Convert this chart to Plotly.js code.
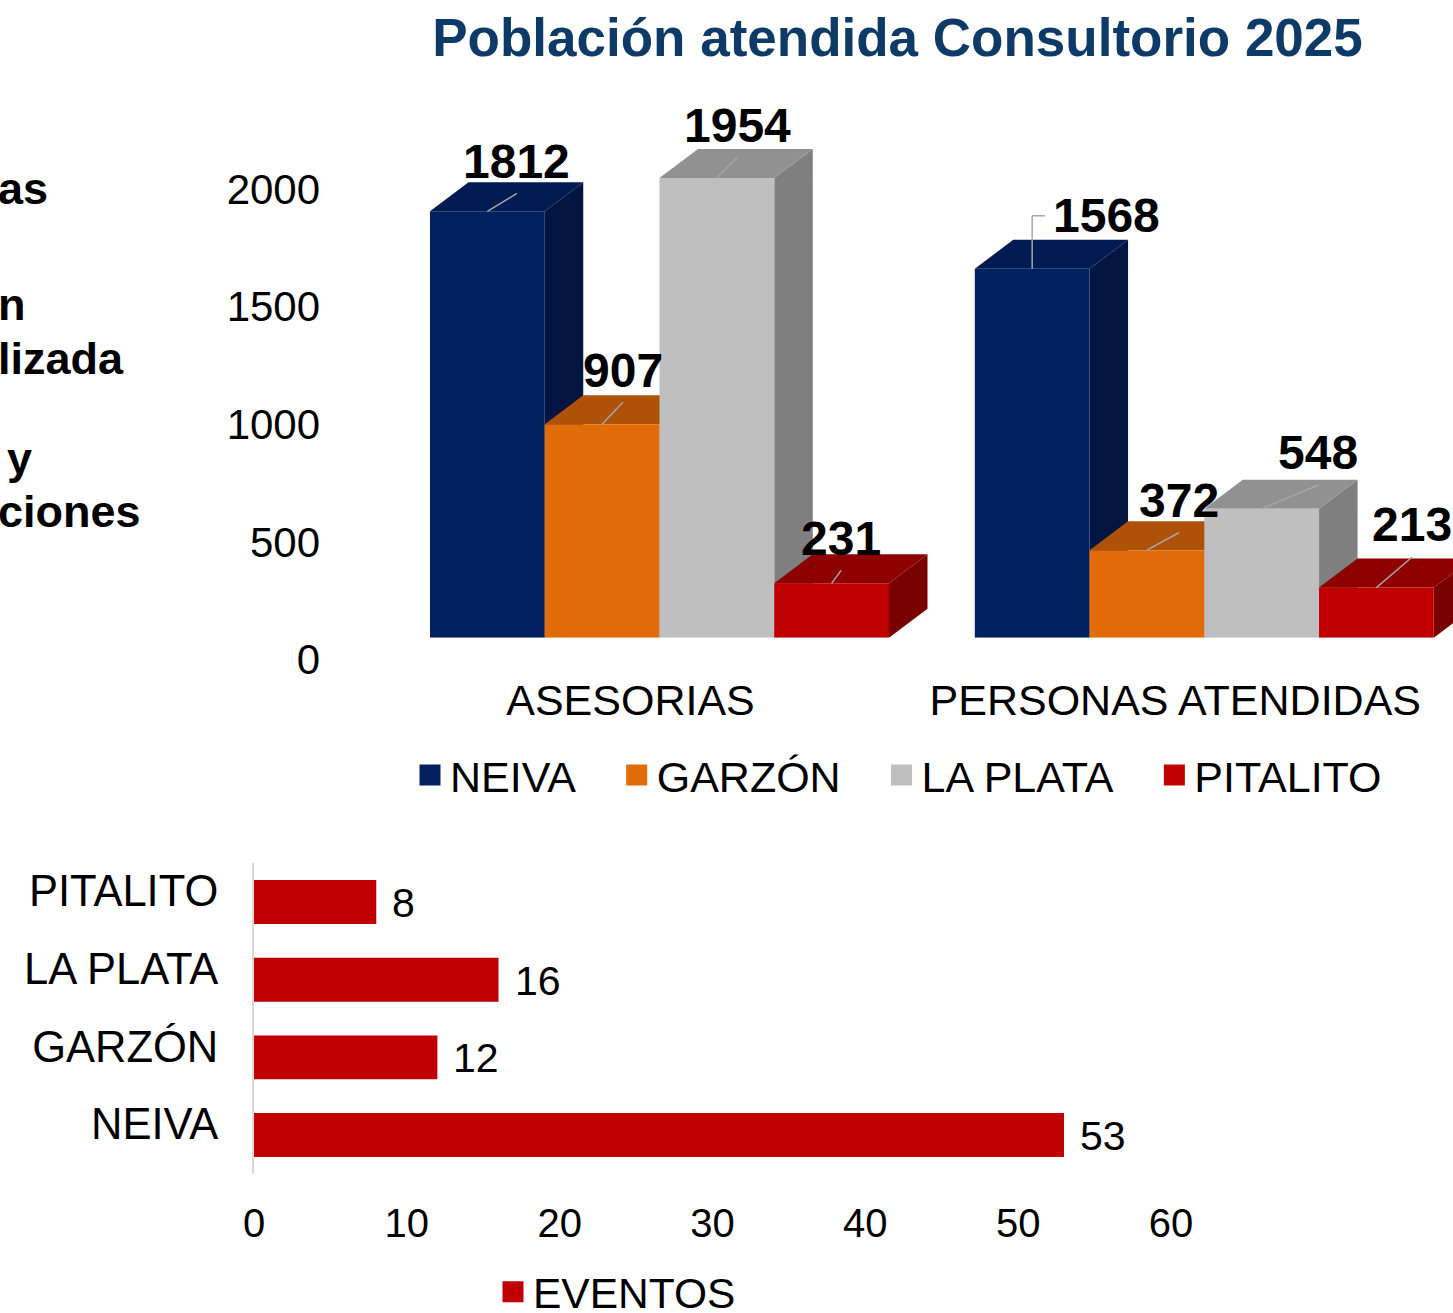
<!DOCTYPE html>
<html>
<head>
<meta charset="utf-8">
<script src="https://cdn.plot.ly/plotly-3.0.1.min.js"></script>
<style>html,body{margin:0;padding:0;background:#fff;}#chart{width:1453px;height:1313px;}</style>
</head>
<body>
<div id="chart"></div>
<script>
// ---------------- DATA ----------------
const categories = ['ASESORIAS', 'PERSONAS ATENDIDAS'];
const sedes = ['NEIVA', 'GARZÓN', 'LA PLATA', 'PITALITO'];
const neiva = [1812, 1568];
const garzon = [907, 372];
const laPlata = [1954, 548];
const pitalito = [231, 213];
const yTickValues = [0, 500, 1000, 1500, 2000];

const eventosSedes = ['NEIVA', 'GARZÓN', 'LA PLATA', 'PITALITO'];
const eventos = [53, 12, 16, 8];
const eventosTicks = [0, 10, 20, 30, 40, 50, 60];

// text of a neighbouring panel that is cut off at the left edge
const leftFragments = ['as', 'n', 'lizada', 'y', 'ciones'];

// ---------------- STYLE / LAYOUT CONSTANTS ----------------
const W = 1453, H = 1313;
const FONT = 'Liberation Sans, Arial, Helvetica, sans-serif';
const frontColors = ['#002060', '#E36C0A', '#BFBFBF', '#C00000'];
const topColors   = ['#001B51', '#AE5208', '#919191', '#8E0000'];
const sideColors  = ['#011540', '#9A4908', '#7F7F7F', '#7A0000'];
const eventColor = '#C00000';

const catPx = 544.8;          // px per category
const plotLeftPx = 387.1;     // left edge of top plot (x = -0.5)
const baselinePx = 637.7;     // front baseline of 3D bars
const plotTopPx = 100;
const pxPerUnitY = 0.2353;
const bargap = 0.1575;
const depthPx = {x: 38.5, y: 29};

const xMax = -0.5 + (W - plotLeftPx) / catPx;
const yMax = (baselinePx - plotTopPx) / pxPerUnitY;
const dxU = depthPx.x / catPx;
const dyU = depthPx.y / pxPerUnitY;
const barW = (1 - bargap) / sedes.length;

// label offsets (pixels from front-top centre of each bar) [category][sede]
const labelOffsets = [
  [[29.5, 50], [20.8, 54], [20.5, 52.7], [9.5, 45]],
  [[74.7, 53], [32.3, 49.7], [56.7, 55.8], [35.8, 62.6]]
];
const elbowLeader = [[false, false, false, false], [true, false, false, false]];

const seriesValues = [neiva, garzon, laPlata, pitalito];

// ---------------- TRACES ----------------
const traces = [];
seriesValues.forEach((vals, i) => {
  traces.push({
    type: 'bar', x: categories.map((c, k) => k), y: vals, name: sedes[i],
    marker: {color: frontColors[i], line: {width: 0}},
    xaxis: 'x', yaxis: 'y', showlegend: false, hoverinfo: 'skip'
  });
});
// legend entries (bigger squares)
sedes.forEach((s, i) => {
  traces.push({
    type: 'scatter', mode: 'markers', x: [null], y: [null],
    name: s + (i < sedes.length - 1 ? '\u00a0\u00a0\u00a0' : ''),
    marker: {symbol: 'square', size: 16, color: frontColors[i], line: {color: frontColors[i], width: 5}},
    xaxis: 'x', yaxis: 'y', legend: 'legend', showlegend: true, hoverinfo: 'skip'
  });
});
traces.push({
  type: 'bar', orientation: 'h', x: eventos, y: eventosSedes, name: 'EVENTOS',
  width: 0.566, marker: {color: eventColor}, xaxis: 'x2', yaxis: 'y2',
  showlegend: false, hoverinfo: 'skip'
});
traces.push({
  type: 'scatter', mode: 'markers', x: [null], y: [null], name: 'EVENTOS',
  marker: {symbol: 'square', size: 16, color: eventColor, line: {color: eventColor, width: 5}},
  xaxis: 'x2', yaxis: 'y2', legend: 'legend2', showlegend: true, hoverinfo: 'skip'
});

// ---------------- 3D FACES, LABELS ----------------
const shapes = [];
const annotations = [];
categories.forEach((c, k) => {
  seriesValues.forEach((vals, i) => {
    const v = vals[k];
    const xl = k + (i - sedes.length / 2) * barW;
    const xr = xl + barW;
    // side face
    shapes.push({type: 'path', xref: 'x', yref: 'y', layer: 'below',
      path: `M${xr},0 L${xr},${v} L${xr + dxU},${v + dyU} L${xr + dxU},${dyU} Z`,
      fillcolor: sideColors[i], line: {width: 0}});
    // top face
    shapes.push({type: 'path', xref: 'x', yref: 'y', layer: 'below',
      path: `M${xl},${v} L${xr},${v} L${xr + dxU},${v + dyU} L${xl + dxU},${v + dyU} Z`,
      fillcolor: topColors[i], line: {width: 0}});
    const xc = (xl + xr) / 2;
    const [ox, oy] = labelOffsets[k][i];
    // leader line
    const lineStyle = {color: '#A6A6A6', width: 1.5};
    if (elbowLeader[k][i]) {
      shapes.push({type: 'line', xref: 'x', yref: 'y', layer: 'above',
        xsizemode: 'pixel', ysizemode: 'pixel', xanchor: xc, yanchor: v,
        x0: 0, x1: 0, y0: 0, y1: oy, line: lineStyle});
      shapes.push({type: 'line', xref: 'x', yref: 'y', layer: 'above',
        xsizemode: 'pixel', ysizemode: 'pixel', xanchor: xc, yanchor: v,
        x0: 0, x1: ox - 62, y0: oy, y1: oy, line: lineStyle});
    } else {
      shapes.push({type: 'line', xref: 'x', yref: 'y', layer: 'above',
        xsizemode: 'pixel', ysizemode: 'pixel', xanchor: xc, yanchor: v,
        x0: 0, x1: ox, y0: 0, y1: oy - 32, line: lineStyle});
    }
    annotations.push({xref: 'x', yref: 'y', x: xc, y: v, xshift: ox, yshift: oy,
      text: String(v), showarrow: false, xanchor: 'center', yanchor: 'middle',
      font: {family: FONT, size: 48, color: '#000', weight: 700}});
  });
});

// value labels bottom chart
eventos.forEach((v, i) => {
  annotations.push({xref: 'x2', yref: 'y2', x: v, y: eventosSedes[i], xshift: 14, yshift: -1,
    text: String(v), showarrow: false, xanchor: 'left', yanchor: 'middle',
    font: {family: FONT, size: 41, color: '#000'}});
});

// cut-off text fragments at left edge
const fragPos = [[-3, 188], [-3, 304], [-3, 358], [6, 459], [-3, 512]];
leftFragments.forEach((t, i) => {
  annotations.push({xref: 'paper', yref: 'paper', x: fragPos[i][0] / W, y: 1 - fragPos[i][1] / H,
    text: t, showarrow: false, xanchor: 'left', yanchor: 'middle', borderpad: 0,
    font: {family: FONT, size: 45, color: '#000', weight: 700}});
});

// ---------------- LAYOUT ----------------
const layout = {
  width: W, height: H,
  margin: {l: 0, r: 0, t: 0, b: 0, autoexpand: false},
  paper_bgcolor: '#ffffff', plot_bgcolor: 'rgba(0,0,0,0)',
  font: {family: FONT, color: '#000', size: 40},
  title: {text: 'Población atendida Consultorio 2025',
    font: {family: FONT, size: 53, color: '#0E3A68', weight: 700},
    x: 897.5 / W, xanchor: 'center', xref: 'paper', y: 1 - 37 / H, yanchor: 'middle', yref: 'container'},
  barmode: 'group', bargap: bargap, bargroupgap: 0,
  showlegend: true,
  xaxis: {domain: [plotLeftPx / W, 1], range: [-0.5, xMax], tickvals: categories.map((c, k) => k),
    ticktext: categories, showgrid: false, zeroline: false, showline: false, ticks: '',
    tickfont: {size: 43}, ticklabelshift: -29, ticklabelstandoff: 33, anchor: 'y', fixedrange: true},
  yaxis: {domain: [(H - baselinePx) / H, (H - plotTopPx) / H], range: [0, yMax], tickvals: yTickValues,
    showgrid: false, zeroline: false, showline: false, ticks: '', tickfont: {size: 42},
    ticklabelshift: 22, ticklabelstandoff: 66, anchor: 'x', fixedrange: true},
  xaxis2: {domain: [254 / W, 1171 / W], range: [0, 60], tickvals: eventosTicks, anchor: 'y2',
    showgrid: false, zeroline: false, showline: false, ticks: '', tickfont: {size: 40},
    ticklabelstandoff: 22, fixedrange: true},
  yaxis2: {domain: [(H - 1173.9) / H, (H - 863.2) / H], anchor: 'x2', type: 'category',
    categoryorder: 'array', categoryarray: eventosSedes, range: [-0.5, 3.5],
    showline: true, linecolor: '#D9D9D9', linewidth: 2, showgrid: false, zeroline: false, ticks: '',
    tickfont: {size: 43.5}, ticklabelshift: -11, ticklabelstandoff: 25, fixedrange: true},
  legend: {orientation: 'h', x: 410 / W, xanchor: 'left', y: 1 - 775 / H, yanchor: 'middle',
    font: {size: 43, color: '#000'}, bgcolor: 'rgba(0,0,0,0)', borderwidth: 0},
  legend2: {orientation: 'h', x: 493 / W, xanchor: 'left', y: 1 - 1292 / H, yanchor: 'middle',
    font: {size: 42.5, color: '#000'}, bgcolor: 'rgba(0,0,0,0)', borderwidth: 0},
  shapes: shapes,
  annotations: annotations
};

Plotly.newPlot('chart', traces, layout, {staticPlot: true, displayModeBar: false});
</script>
</body>
</html>
